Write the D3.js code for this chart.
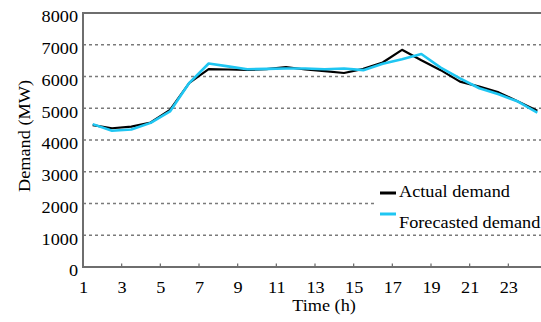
<!DOCTYPE html>
<html><head><meta charset="utf-8">
<script src="https://cdn.jsdelivr.net/npm/d3@7"></script>
<style>
html,body{margin:0;padding:0;background:#fff;}
svg text{font-family:"Liberation Serif","Times New Roman",serif !important;fill:#000;}
</style></head>
<body><svg id="c" width="541" height="322"></svg>
<script>
const hours = [1,2,3,4,5,6,7,8,9,10,11,12,13,14,15,16,17,18,19,20,21,22,23,24];
const actual = [4470,4370,4420,4550,4950,5800,6230,6220,6210,6230,6300,6220,6170,6110,6240,6440,6840,6510,6200,5840,5680,5500,5210,4920];
const forecast = [4500,4290,4330,4540,4900,5800,6410,6320,6230,6240,6250,6250,6230,6250,6200,6400,6540,6710,6280,5940,5630,5440,5210,4860];
const xTicks = [1,3,5,7,9,11,13,15,17,19,21,23];
const yTicks = [0,1000,2000,3000,4000,5000,6000,7000,8000];
const seriesNames = ["Actual demand","Forecasted demand"];
const colors = ["#000000","#1fc6f2"];

const svg = d3.select("#c");
const L = 83, R = 541, T = 13, B = 267;
const x = d3.scaleLinear().domain([1,25]).range([L,547]);
const y = d3.scaleLinear().domain([0,8000]).range([B,T]);
const STR = 1.14;
const SERIF = '"Liberation Serif","Times New Roman",serif';
function stretch(sel){ sel.each(function(){ const w=this.getComputedTextLength(); d3.select(this).attr("textLength",w*STR).attr("lengthAdjust","spacingAndGlyphs"); }); }

// gridlines
svg.append("g").selectAll("line").data(yTicks.filter(v=>v>0&&v<8000)).join("line")
  .attr("x1",L).attr("x2",R).attr("y1",d=>y(d)).attr("y2",d=>y(d))
  .attr("stroke","#7a7a7a").attr("stroke-width",1.6).attr("stroke-dasharray","3,3");

// y axis
const ya = d3.axisLeft(y).tickValues(yTicks).tickSize(0).tickPadding(5).tickFormat(d3.format("d"));
const yg = svg.append("g").attr("transform",`translate(${L},0)`).call(ya).attr("font-family",null);
yg.select(".domain").remove();
yg.selectAll("text").style("font-family",SERIF).attr("font-size",16).attr("dy","0.55em").call(stretch);

// x axis
const xa = d3.axisBottom(x).tickValues(xTicks).tickSize(0).tickPadding(0).tickFormat(d3.format("d"));
const xg = svg.append("g").attr("transform",`translate(0,${B})`).call(xa).attr("font-family",null);
xg.select(".domain").remove();
xg.selectAll("text").style("font-family",SERIF).attr("font-size",16).attr("y",26).attr("dy",0).call(stretch);
// inside tick marks
svg.append("g").selectAll("line").data(xTicks.slice(1)).join("line")
  .attr("x1",d=>x(d)).attr("x2",d=>x(d)).attr("y1",B).attr("y2",B-3.5)
  .attr("stroke","#666").attr("stroke-width",1.2);

// frame
svg.append("path").attr("d",`M${R},${T}H${L}V${B}H${R}`).attr("fill","none").attr("stroke","#6e6e6e").attr("stroke-width",2);

// legend background
svg.append("rect").attr("x",374).attr("y",180).attr("width",167).attr("height",46).attr("fill","#fff");

// lines
const line = d3.line().x((d,i)=>x(hours[i]+0.5)).y(d=>y(d));
svg.append("path").datum(actual).attr("d",line).attr("fill","none").attr("stroke",colors[0]).attr("stroke-width",2.2).attr("stroke-linejoin","round");
svg.append("path").datum(forecast).attr("d",line).attr("fill","none").attr("stroke",colors[1]).attr("stroke-width",2.6).attr("stroke-linejoin","round");

// legend
const lg = svg.append("g");
const ly = [193,214], ty=[197,228];
seriesNames.forEach((n,i)=>{
  lg.append("line").attr("x1",380).attr("x2",396).attr("y1",ly[i]).attr("y2",ly[i]).attr("stroke",colors[i]).attr("stroke-width",3);
  lg.append("text").style("font-family",SERIF).attr("x",399).attr("y",ty[i]).attr("font-size",16).text(n).call(stretch);
});

// axis titles
svg.append("text").style("font-family",SERIF).attr("x",324).attr("y",311).attr("text-anchor","middle").attr("font-size",16).text("Time (h)").call(stretch);
svg.append("text").style("font-family",SERIF).attr("transform","translate(30,136) rotate(-90)").attr("text-anchor","middle").attr("font-size",16).text("Demand (MW)").call(stretch);
</script></body></html>
